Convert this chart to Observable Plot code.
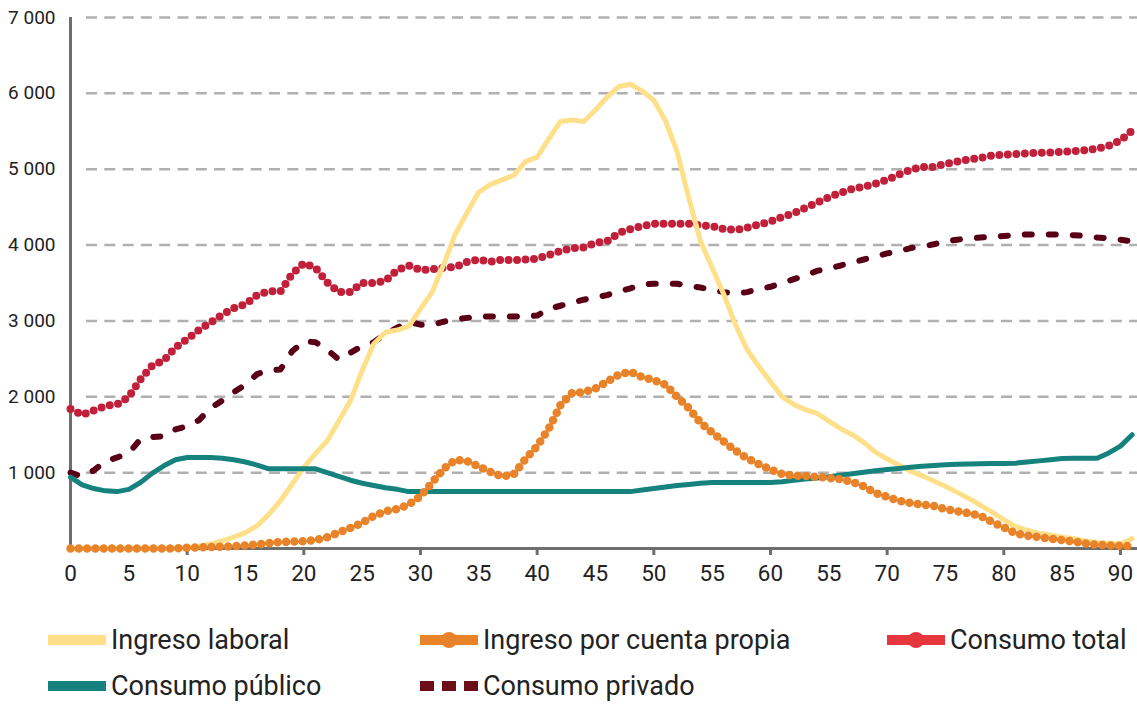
<!DOCTYPE html>
<html><head><meta charset="utf-8">
<script src="https://cdn.jsdelivr.net/npm/d3@7"></script>
<script src="https://cdn.jsdelivr.net/npm/@observablehq/plot@0.6"></script>
<style>
body{margin:0;background:#fff;font-family:Roboto,"Open Sans",sans-serif;}
#chart{position:absolute;left:0;top:0;}
#legend{position:absolute;left:0;top:0;width:1137px;height:704px;}
.item{position:absolute;display:flex;align-items:center;font-size:27px;color:#222;height:34px;line-height:34px;}
.item svg{margin-right:5px;}
</style></head><body>
<div id="chart"></div>
<div id="legend"></div>
<script>
const ages = [0,1,2,3,4,5,6,7,8,9,10,11,12,13,14,15,16,17,18,19,20,21,22,23,24,25,26,27,28,29,30,31,32,33,34,35,36,37,38,39,40,41,42,43,44,45,46,47,48,49,50,51,52,53,54,55,56,57,58,59,60,61,62,63,64,65,66,67,68,69,70,71,72,73,74,75,76,77,78,79,80,81,82,83,84,85,86,87,88,89,90,91];

const ingresoLaboral = [0,0,0,0,0,0,0,0,0,0,10,30,60,100,150,210,300,450,630,850,1070,1250,1420,1680,1950,2350,2700,2850,2880,2930,3160,3380,3750,4150,4430,4700,4800,4860,4920,5100,5160,5400,5630,5650,5630,5780,5950,6090,6120,6030,5910,5640,5230,4620,4050,3700,3350,2950,2620,2400,2200,2000,1900,1830,1780,1680,1580,1500,1400,1270,1180,1100,1020,960,890,820,740,660,570,480,380,290,240,200,180,150,130,100,80,70,60,130];

const ingresoCuentaPropia = [0,0,0,0,0,0,0,0,0,0,10,15,20,25,30,40,55,70,85,90,95,110,150,210,270,340,430,490,520,580,690,870,1050,1170,1150,1080,1010,950,980,1180,1350,1580,1890,2050,2060,2110,2200,2290,2330,2260,2220,2160,2000,1850,1660,1530,1410,1290,1190,1110,1040,980,960,955,945,930,915,880,820,730,680,630,600,580,560,520,490,465,430,350,280,200,170,150,130,110,90,65,50,40,35,30];

const consumoTotal = [1840,1760,1820,1880,1900,2000,2230,2410,2480,2650,2760,2880,2980,3080,3170,3220,3340,3390,3390,3620,3760,3700,3510,3380,3380,3500,3500,3530,3670,3730,3670,3680,3700,3710,3780,3810,3780,3810,3800,3810,3820,3870,3920,3960,3970,4030,4050,4160,4210,4250,4280,4280,4280,4280,4260,4250,4210,4200,4230,4270,4310,4370,4420,4490,4560,4630,4690,4740,4770,4810,4860,4930,4990,5030,5030,5070,5100,5130,5150,5180,5190,5200,5210,5215,5220,5230,5240,5250,5270,5310,5380,5510];

const consumoPublico = [940,840,790,760,750,780,870,990,1090,1170,1200,1200,1200,1190,1170,1140,1100,1050,1050,1050,1050,1050,1000,950,900,860,830,800,780,750,750,750,750,750,750,750,750,750,750,750,750,750,750,750,750,750,750,750,750,770,790,810,830,845,860,870,870,870,870,870,870,880,900,915,930,945,965,985,1005,1025,1040,1055,1070,1085,1095,1105,1110,1115,1118,1120,1120,1125,1140,1155,1170,1185,1190,1190,1190,1260,1350,1500];

const consumoPrivado = [1000,950,1030,1150,1200,1260,1440,1470,1480,1570,1610,1690,1850,1950,2060,2160,2300,2350,2360,2600,2730,2720,2620,2490,2580,2670,2720,2830,2910,2990,2950,2950,2990,3020,3040,3060,3060,3060,3060,3060,3070,3160,3200,3240,3280,3310,3340,3390,3430,3480,3490,3490,3490,3460,3440,3410,3380,3360,3380,3420,3450,3500,3550,3600,3660,3690,3730,3770,3810,3850,3890,3920,3960,3980,4010,4050,4070,4090,4100,4110,4120,4130,4140,4140,4140,4140,4130,4120,4100,4090,4070,4050];

const yTicks = [1000,2000,3000,4000,5000,6000,7000];
const yTickLabels = ["1 000","2 000","3 000","4 000","5 000","6 000","7 000"];
const xTicks = [0,5,10,15,20,25,30,35,40,45,50,55,60,65,70,75,80,85,90];
const xTickLabels = ["0","5","10","15","20","25","30","35","40","45","50","55","60","55","70","75","80","85","90"];
const xMajorTicks = [10,20,30,40,50,60,70,80,90];

const seriesNames = ["Ingreso laboral","Ingreso por cuenta propia","Consumo total","Consumo público","Consumo privado"];

const toRows = (vals) => ages.map((a, i) => ({age: a, value: vals[i]}));

const axisColor = "#6e6e6e";

const chart = Plot.plot({
  width: 1137, height: 600,
  marginTop: 17, marginBottom: 52, marginLeft: 70, marginRight: 0,
  x: {domain: [0, 91.46]},
  y: {domain: [0, 7000]},
  style: {fontFamily: "Roboto, 'Open Sans', sans-serif", fontSize: "19px", color: "#222", background: "#fff"},
  marks: [
    Plot.ruleY(yTicks, {stroke: "#b0b0b0", strokeWidth: 2.5, strokeDasharray: "11 7.3", insetLeft: 16}),
    Plot.axisY({ticks: yTicks, tickSize: 0, tickPadding: 15, label: null, fontSize: 19,
      tickFormat: d => yTickLabels[yTicks.indexOf(d)]}),
    Plot.axisX({ticks: xTicks, tickSize: 0, tickPadding: 17, label: null, fontSize: 22.5,
      tickFormat: d => xTickLabels[xTicks.indexOf(d)]}),
    Plot.axisX({ticks: xMajorTicks, tickSize: 7, label: null, tickFormat: () => "",
      stroke: axisColor, strokeWidth: 3}),
    Plot.ruleY([0], {stroke: axisColor, strokeWidth: 3}),
    Plot.ruleX([0], {stroke: axisColor, strokeWidth: 3}),
    Plot.lineY(toRows(consumoTotal), {x: "age", y: "value", stroke: "#c1203a", strokeWidth: 8,
      strokeDasharray: "0 8.5", strokeLinecap: "round"}),
    Plot.lineY(toRows(consumoPrivado), {x: "age", y: "value", stroke: "#5a0016", strokeWidth: 6,
      strokeDasharray: "7 17", strokeLinecap: "round"}),
    Plot.lineY(toRows(ingresoLaboral), {x: "age", y: "value", stroke: "#ffe08a", strokeWidth: 5,
      strokeLinejoin: "round"}),
    Plot.lineY(toRows(consumoPublico), {x: "age", y: "value", stroke: "#16827e", strokeWidth: 5,
      strokeLinejoin: "round"}),
    Plot.lineY(toRows(ingresoCuentaPropia), {x: "age", y: "value", stroke: "#e8832a", strokeWidth: 8.5,
      strokeDasharray: "0 8.3", strokeLinecap: "round"})
  ]
});
document.getElementById("chart").appendChild(chart);

// Legend
const legendSpec = [
  {name: seriesNames[0], left: 48, top: 623, kind: "solid", color: "#ffe08a"},
  {name: seriesNames[1], left: 420, top: 623, kind: "dot", color: "#e8832a"},
  {name: seriesNames[2], left: 887, top: 623, kind: "dot", color: "#e8363e"},
  {name: seriesNames[3], left: 48, top: 669, kind: "solid", color: "#16827e"},
  {name: seriesNames[4], left: 420, top: 669, kind: "dash", color: "#6b0e17"}
];
const legend = document.getElementById("legend");
for (const s of legendSpec) {
  const div = document.createElement("div");
  div.className = "item";
  div.style.left = s.left + "px";
  div.style.top = s.top + "px";
  let svg = `<svg width="58" height="20" viewBox="0 0 58 20">`;
  if (s.kind === "solid") svg += `<rect x="0" y="5" width="58" height="10" fill="${s.color}"/>`;
  if (s.kind === "dot") svg += `<rect x="0" y="5" width="58" height="10" fill="${s.color}"/><circle cx="29" cy="10" r="8" fill="${s.color}"/>`;
  if (s.kind === "dash") svg += `<rect x="0" y="5" width="14" height="10" fill="${s.color}"/><rect x="22" y="5" width="14" height="10" fill="${s.color}"/><rect x="44" y="5" width="14" height="10" fill="${s.color}"/>`;
  svg += `</svg>`;
  div.innerHTML = svg + `<span>${s.name}</span>`;
  legend.appendChild(div);
}
</script>
</body></html>
